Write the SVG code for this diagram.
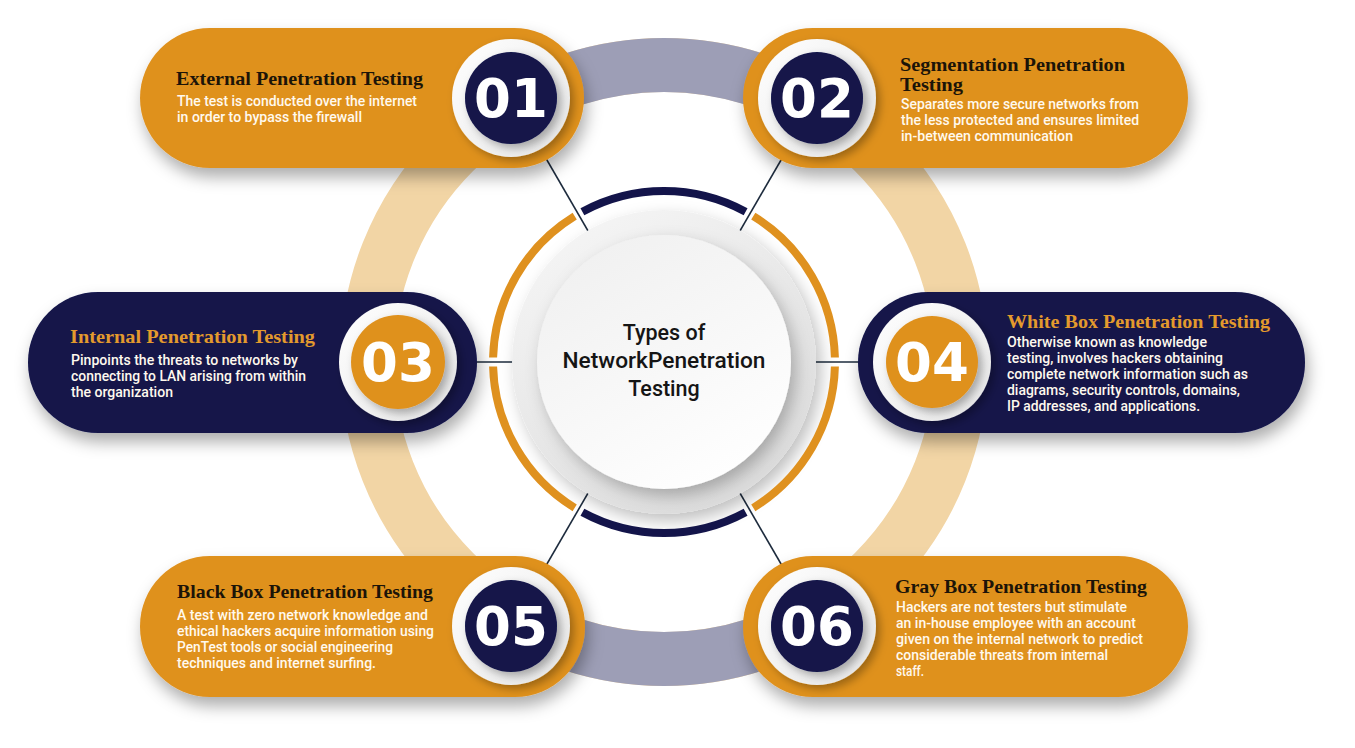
<svg xmlns="http://www.w3.org/2000/svg" width="1355" height="748" viewBox="0 0 1355 748">
<style>
.ttl{font-family:"Liberation Serif","Times New Roman",serif;font-weight:bold;font-size:19.5px}
.ttl-o{fill:#1c1408}
.ttl-n{fill:#e39a2d}
.body{font-family:Roboto,"Noto Sans",sans-serif;font-weight:500;font-size:14.5px;fill:#fff9ee}
.num{font-family:"DejaVu Sans",sans-serif;font-weight:bold;font-size:53px;fill:#ffffff;text-anchor:middle}
.ctr{font-family:Roboto,"Noto Sans",sans-serif;font-weight:500;font-size:21.5px;fill:#151515;text-anchor:middle}
.card-o{fill:#df911f}
.card-n{fill:#13144a}
.disc-n{fill:#13144a}
.disc-o{fill:#df911f}
.conn{stroke:#1d2b3d;stroke-width:1.6;fill:none}
.arc{fill:none;stroke-width:8}
</style>
<defs>
<filter id="cardSh" x="-20%" y="-30%" width="145%" height="180%">
<feDropShadow dx="3" dy="9" stdDeviation="8" flood-color="#000" flood-opacity="0.32"/>
</filter>
<filter id="circSh" x="-40%" y="-40%" width="190%" height="190%">
<feDropShadow dx="4" dy="4" stdDeviation="4" flood-color="#000" flood-opacity="0.3"/>
</filter>
<filter id="discSh" x="-30%" y="-30%" width="170%" height="170%">
<feDropShadow dx="5" dy="7" stdDeviation="8" flood-color="#000" flood-opacity="0.25"/>
</filter>
<linearGradient id="whiteG" x1="0" y1="0" x2="1" y2="1">
<stop offset="0" stop-color="#ffffff"/>
<stop offset="1" stop-color="#e6e6e6"/>
</linearGradient>
<linearGradient id="outerG" x1="0" y1="0" x2="0.6" y2="1">
<stop offset="0" stop-color="#f8f8f8"/>
<stop offset="1" stop-color="#dcdcdc"/>
</linearGradient>
<linearGradient id="innerG" x1="0.2" y1="0" x2="0.8" y2="1">
<stop offset="0" stop-color="#f0f0f0"/>
<stop offset="1" stop-color="#ffffff"/>
</linearGradient>
</defs>
<rect width="1355" height="748" fill="#ffffff"/>

<g id="ring" transform="translate(664,362)">
<circle r="297" fill="none" stroke="#f2d5a5" stroke-width="54"/>
<path d="M-170.4,-243.3 A297,297 0 0 1 170.4,-243.3" fill="none" stroke="#9d9eb6" stroke-width="54"/>
<path d="M170.4,243.3 A297,297 0 0 1 -170.4,243.3" fill="none" stroke="#9d9eb6" stroke-width="54"/>
</g>

<g id="connectors">
<line class="conn" x1="511" y1="98" x2="664" y2="362"/>
<line class="conn" x1="817" y1="98" x2="664" y2="362"/>
<line class="conn" x1="398" y1="362" x2="664" y2="362"/>
<line class="conn" x1="932" y1="362" x2="664" y2="362"/>
<line class="conn" x1="511" y1="626" x2="664" y2="362"/>
<line class="conn" x1="817" y1="626" x2="664" y2="362"/>
</g>

<g id="center" transform="translate(664,362)">
<circle r="152" fill="url(#outerG)" filter="url(#discSh)"/>
<circle r="127" fill="url(#innerG)" filter="url(#discSh)"/>
<path class="arc" stroke="#13144a" d="M-81.6,-150.3 A171,171 0 0 1 81.6,-150.3"/>
<path class="arc" stroke="#df911f" d="M89.3,-145.8 A171,171 0 0 1 170.9,-4.5"/>
<path class="arc" stroke="#df911f" d="M170.9,4.5 A171,171 0 0 1 89.3,145.8"/>
<path class="arc" stroke="#13144a" d="M81.6,150.3 A171,171 0 0 1 -81.6,150.3"/>
<path class="arc" stroke="#df911f" d="M-89.3,145.8 A171,171 0 0 1 -170.9,4.5"/>
<path class="arc" stroke="#df911f" d="M-170.9,-4.5 A171,171 0 0 1 -89.3,-145.8"/>
<text class="ctr" x="0" y="-22">Types of</text>
<text class="ctr" x="0" y="6" textLength="203" lengthAdjust="spacingAndGlyphs">NetworkPenetration</text>
<text class="ctr" x="0" y="34">Testing</text>
</g>

<g id="node-01">
<rect class="card-o" x="140" y="28" width="444" height="140" rx="70" filter="url(#cardSh)"/>
<circle cx="511" cy="98" r="59" fill="url(#whiteG)" filter="url(#circSh)"/>
<circle class="disc-n" cx="511" cy="98" r="46" filter="url(#circSh)"/>
<text class="num" x="511" y="117">01</text>
<text class="ttl ttl-o" x="176" y="85" textLength="247" lengthAdjust="spacingAndGlyphs">External Penetration Testing</text>
<text class="body" x="177" y="106" textLength="240" lengthAdjust="spacingAndGlyphs">The test is conducted over the internet</text>
<text class="body" x="177" y="122" textLength="185" lengthAdjust="spacingAndGlyphs">in order to bypass the firewall</text>
</g>

<g id="node-02">
<rect class="card-o" x="743" y="28" width="445" height="140" rx="70" filter="url(#cardSh)"/>
<circle cx="817" cy="98" r="59" fill="url(#whiteG)" filter="url(#circSh)"/>
<circle class="disc-n" cx="817" cy="98" r="46" filter="url(#circSh)"/>
<text class="num" x="817" y="117">02</text>
<text class="ttl ttl-o" x="900" y="71" textLength="225" lengthAdjust="spacingAndGlyphs">Segmentation Penetration</text>
<text class="ttl ttl-o" x="900" y="91" textLength="63" lengthAdjust="spacingAndGlyphs">Testing</text>
<text class="body" x="901" y="109" textLength="238" lengthAdjust="spacingAndGlyphs">Separates more secure networks from</text>
<text class="body" x="901" y="125" textLength="238" lengthAdjust="spacingAndGlyphs">the less protected and ensures limited</text>
<text class="body" x="901" y="141" textLength="172" lengthAdjust="spacingAndGlyphs">in-between communication</text>
</g>

<g id="node-03">
<rect class="card-n" x="28" y="292" width="449" height="141" rx="70" filter="url(#cardSh)"/>
<circle cx="398" cy="362" r="59" fill="url(#whiteG)" filter="url(#circSh)"/>
<circle class="disc-o" cx="398" cy="362" r="47" filter="url(#circSh)"/>
<text class="num" x="398" y="381">03</text>
<text class="ttl ttl-n" x="70" y="343" textLength="245" lengthAdjust="spacingAndGlyphs">Internal Penetration Testing</text>
<text class="body" x="71" y="365" textLength="227" lengthAdjust="spacingAndGlyphs">Pinpoints the threats to networks by</text>
<text class="body" x="71" y="381" textLength="235" lengthAdjust="spacingAndGlyphs">connecting to LAN arising from within</text>
<text class="body" x="71" y="397" textLength="102" lengthAdjust="spacingAndGlyphs">the organization</text>
</g>

<g id="node-04">
<rect class="card-n" x="858" y="292" width="447" height="141" rx="70" filter="url(#cardSh)"/>
<circle cx="932" cy="362" r="59" fill="url(#whiteG)" filter="url(#circSh)"/>
<circle class="disc-o" cx="932" cy="362" r="46" filter="url(#circSh)"/>
<text class="num" x="932" y="381">04</text>
<text class="ttl ttl-n" x="1007" y="328" textLength="263" lengthAdjust="spacingAndGlyphs">White Box Penetration Testing</text>
<text class="body" x="1007" y="347" textLength="200" lengthAdjust="spacingAndGlyphs">Otherwise known as knowledge</text>
<text class="body" x="1007" y="363" textLength="216" lengthAdjust="spacingAndGlyphs">testing, involves hackers obtaining</text>
<text class="body" x="1007" y="379" textLength="241" lengthAdjust="spacingAndGlyphs">complete network information such as</text>
<text class="body" x="1007" y="395" textLength="233" lengthAdjust="spacingAndGlyphs">diagrams, security controls, domains,</text>
<text class="body" x="1007" y="411" textLength="193" lengthAdjust="spacingAndGlyphs">IP addresses, and applications.</text>
</g>

<g id="node-05">
<rect class="card-o" x="140" y="556" width="445" height="141" rx="70" filter="url(#cardSh)"/>
<circle cx="511" cy="626" r="59" fill="url(#whiteG)" filter="url(#circSh)"/>
<circle class="disc-n" cx="511" cy="626" r="46" filter="url(#circSh)"/>
<text class="num" x="511" y="645">05</text>
<text class="ttl ttl-o" x="177" y="598" textLength="256" lengthAdjust="spacingAndGlyphs">Black Box Penetration Testing</text>
<text class="body" x="177" y="620" textLength="251" lengthAdjust="spacingAndGlyphs">A test with zero network knowledge and</text>
<text class="body" x="177" y="636" textLength="257" lengthAdjust="spacingAndGlyphs">ethical hackers acquire information using</text>
<text class="body" x="177" y="652" textLength="216" lengthAdjust="spacingAndGlyphs">PenTest tools or social engineering</text>
<text class="body" x="177" y="668" textLength="199" lengthAdjust="spacingAndGlyphs">techniques and internet surfing.</text>
</g>

<g id="node-06">
<rect class="card-o" x="743" y="556" width="445" height="141" rx="70" filter="url(#cardSh)"/>
<circle cx="817" cy="626" r="59" fill="url(#whiteG)" filter="url(#circSh)"/>
<circle class="disc-n" cx="817" cy="626" r="46" filter="url(#circSh)"/>
<text class="num" x="817" y="645">06</text>
<text class="ttl ttl-o" x="895" y="593" textLength="252" lengthAdjust="spacingAndGlyphs">Gray Box Penetration Testing</text>
<text class="body" x="896" y="612" textLength="231" lengthAdjust="spacingAndGlyphs">Hackers are not testers but stimulate</text>
<text class="body" x="896" y="628" textLength="240" lengthAdjust="spacingAndGlyphs">an in-house employee with an account</text>
<text class="body" x="896" y="644" textLength="247" lengthAdjust="spacingAndGlyphs">given on the internal network to predict</text>
<text class="body" x="896" y="660" textLength="212" lengthAdjust="spacingAndGlyphs">considerable threats from internal</text>
<text class="body" x="896" y="676" textLength="28" lengthAdjust="spacingAndGlyphs">staff.</text>
</g>
</svg>
